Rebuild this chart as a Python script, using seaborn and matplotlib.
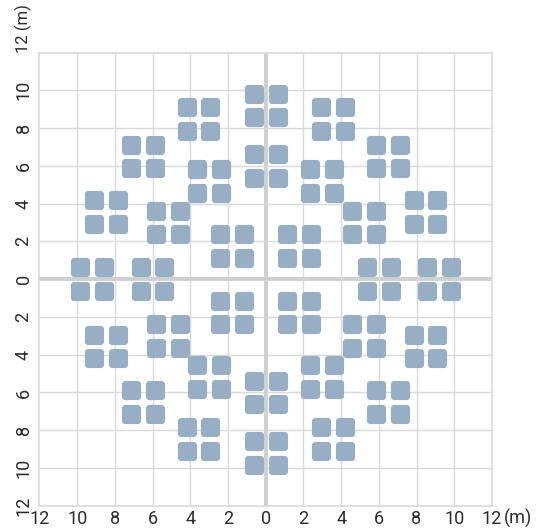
import numpy as np
import pandas as pd
import matplotlib
matplotlib.use('Agg')
import matplotlib.pyplot as plt
from matplotlib.path import Path
import seaborn as sns

# centres of the 2x2 panel groups (m)
group_x = [9.2, 8.47, 6.5, 3.57, 0.0, -3.57, -6.5, -8.47,
           -9.2, -8.47, -6.5, -3.57, 0.0, 3.57, 6.5, 8.47,
           6.0, 5.2, 3.0, 0.0, -3.0, -5.2, -6.0, -5.2, -3.0, 0.0, 3.0, 5.2,
           1.77, -1.77, -1.77, 1.77]
group_y = [0.0, 3.57, 6.5, 8.47, 9.2, 8.47, 6.5, 3.57,
           0.0, -3.57, -6.5, -8.47, -9.2, -8.47, -6.5, -3.57,
           0.0, 3.0, 5.2, 6.0, 5.2, 3.0, 0.0, -3.0, -5.2, -6.0, -5.2, -3.0,
           1.77, 1.77, -1.77, -1.77]
# offsets of the four panels inside a group (m)
panel_dx = [-0.63, 0.63, -0.63, 0.63]
panel_dy = [-0.63, -0.63, 0.63, 0.63]

ticks = [-12, -10, -8, -6, -4, -2, 0, 2, 4, 6, 8, 10, 12]

rows = []
for gx, gy in zip(group_x, group_y):
    for dx, dy in zip(panel_dx, panel_dy):
        rows.append({'x': gx + dx, 'y': gy + dy})
df = pd.DataFrame(rows)


def rounded_square(r=0.18, n=8):
    pts = []
    h = 0.5 - r
    for cx, cy, a0 in [(h, h, 0), (-h, h, 90), (-h, -h, 180), (h, -h, 270)]:
        for t in np.radians(np.linspace(a0, a0 + 90, n)):
            pts.append((cx + r * np.cos(t), cy + r * np.sin(t)))
    pts.append(pts[0])
    codes = [Path.MOVETO] + [Path.LINETO] * (len(pts) - 2) + [Path.CLOSEPOLY]
    return Path(pts, codes)


sns.set_style('white')
plt.rcParams['font.family'] = ['Roboto', 'DejaVu Sans']

fig = plt.figure(figsize=(5.43, 5.30), dpi=100)
ax = fig.add_axes([0.0727, 0.0458, 0.8333, 0.855])

grid_c = '#d9d9d9'
for t in ticks[1:-1]:
    lw = 2.8 if t == 0 else 1.0
    c = '#cfcfcf' if t == 0 else grid_c
    ax.axvline(t, color=c, lw=lw, zorder=1)
    ax.axhline(t, color=c, lw=lw, zorder=1)

sns.scatterplot(data=df, x='x', y='y', marker=rounded_square(), s=190,
                color='#98aec4', linewidth=0, ax=ax, zorder=3)

txt = dict(fontsize=13, color='#2b2b2b', fontweight='normal')

ax.set_xlim(-12, 12)
ax.set_ylim(-12, 12)
ax.set_xticks(ticks)
ax.set_yticks(ticks)
ax.set_xticklabels([str(abs(t)) for t in ticks])
ylabels = [str(abs(t)) for t in ticks]
ylabels[-1] = ''
ax.set_yticklabels(ylabels, rotation=90, va='center')
ax.tick_params(length=0, labelsize=txt['fontsize'], labelcolor=txt['color'])
ax.tick_params(axis='x', pad=3)
ax.tick_params(axis='y', pad=5)
ax.set_xlabel('')
ax.set_ylabel('')
for s in ax.spines.values():
    s.set_color(grid_c)
    s.set_linewidth(1.2)

# unit labels
ax.text(12.62, -12.17, '(m)', ha='left', va='top', clip_on=False, **txt)
ax.text(-12.38, 12.0, '12 (m)', ha='right', va='bottom', rotation=90,
        clip_on=False, fontsize=12, color=txt['color'])

fig.savefig('out.png', dpi=100)
